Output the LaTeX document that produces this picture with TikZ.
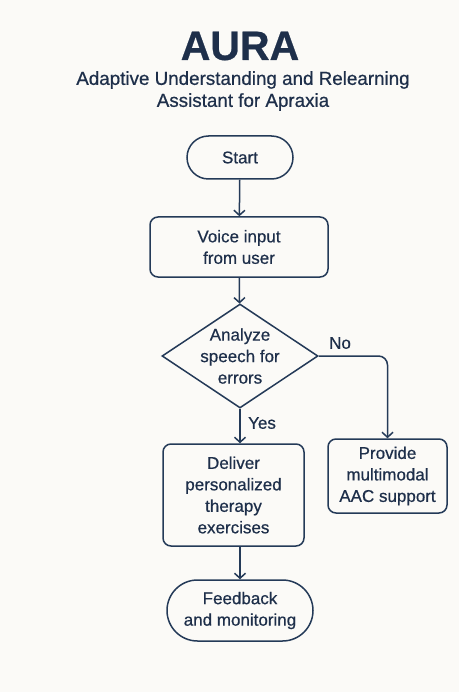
\documentclass[tikz,border=0pt]{standalone}
\usepackage{fontspec}
\setmainfont{Liberation Sans}
\newfontfamily\medfont[FakeBold=0.6]{Liberation Sans}
\usetikzlibrary{shapes.geometric,shapes.misc,arrows.meta}
\definecolor{navy}{HTML}{1E2F4A}
\definecolor{linec}{HTML}{243A58}
\definecolor{bg}{HTML}{FBFAF7}
\begin{document}
\begin{tikzpicture}[x=1pt,y=-1pt,
  every node/.style={text=navy,font=\medfont\fontsize{17}{21.5}\selectfont},
  term/.style={draw=linec,line width=1.5pt,rounded rectangle,align=center,inner sep=0pt,fill=bg},
  proc/.style={draw=linec,line width=1.5pt,rounded corners=8pt,align=center,inner sep=0pt,fill=bg},
  decis/.style={draw=linec,line width=1.5pt,diamond,inner sep=0pt,fill=bg},
  conn/.style={draw=linec,line width=1.5pt,-{Straight Barb[length=5pt,width=11pt,line width=1.5pt]}},
  lbl/.style={font=\medfont\fontsize{17}{20}\selectfont}
]
\useasboundingbox[fill=bg] (0,0) rectangle (459,692);
\node (title) at (240,46) {\fontsize{41}{45}\selectfont\bfseries AURA};
\node[align=center,font=\medfont\fontsize{18.8}{22}\selectfont] (sub) at (243,91) {Adaptive Understanding and Relearning\\Assistant for Apraxia};

\node[term,minimum width=106pt,minimum height=43pt] (start) at (240,157.5) {Start};
\node[proc,minimum width=178pt,minimum height=60pt] (voice) at (239,247) {Voice input\\from user};
\node[decis,minimum width=156pt,minimum height=104pt] (dia) at (240,356) {};
\node[align=center] (diatext) at (240,356) {Analyze\\speech for\\errors};
\node[proc,minimum width=141pt,minimum height=102pt] (del) at (233.5,495) {Deliver\\personalized\\therapy\\exercises};
\node[proc,minimum width=119pt,minimum height=74pt] (prov) at (387.5,476) {Provide\\multimodal\\AAC support};
\node[term,minimum width=146pt,minimum height=61pt] (fb) at (240,610.5) {Feedback\\and monitoring};

\draw[conn] (start) -- (voice);
\draw[conn] (voice) -- (dia);
\draw[conn,rounded corners=9pt] (dia.east) -| (prov.north);
\draw[conn] (dia.south) -- (dia.south |- del.north);
\draw[conn] (fb.north |- del.south) -- (fb.north);
\node[lbl] (no) at (340,343) {No};
\node[lbl] (yes) at (262,423) {Yes};
\end{tikzpicture}
\end{document}
